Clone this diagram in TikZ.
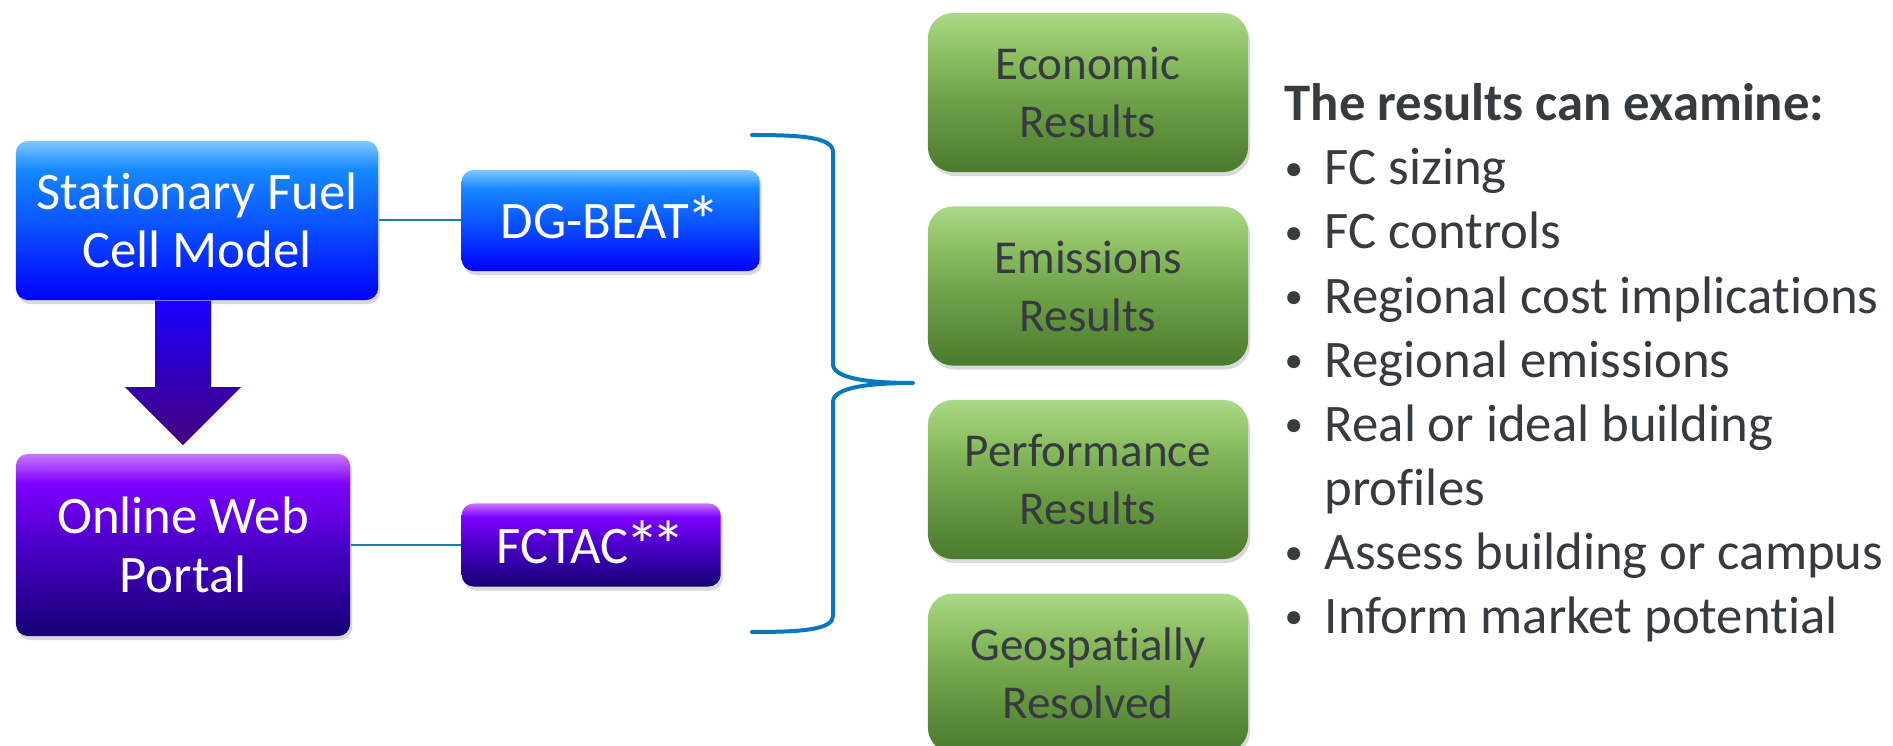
\documentclass[tikz,border=0pt]{standalone}
\usepackage{fontspec}
\setmainfont{Carlito}[Ligatures={NoCommon,TeX}]
\usetikzlibrary{positioning,shadows,calc}

\definecolor{fcBlueL}{HTML}{80C8FF}
\definecolor{fcBlueM}{HTML}{1588FF}
\definecolor{fcBlueN}{HTML}{0A50FF}
\definecolor{fcBlueD}{HTML}{0000FF}
\definecolor{fcVioL}{HTML}{C878FF}
\definecolor{fcVioM}{HTML}{7F00FF}
\definecolor{fcVioN}{HTML}{4A00C8}
\definecolor{fcVioD}{HTML}{160074}
\definecolor{resGreenL}{HTML}{ABD98A}
\definecolor{resGreenM}{HTML}{9ACB70}
\definecolor{resGreenN}{HTML}{73A54C}
\definecolor{resGreenD}{HTML}{4A7A2C}
\definecolor{arrowTop}{HTML}{1A00FF}
\definecolor{arrowBot}{HTML}{46007C}
\definecolor{braceBlue}{HTML}{0A78BE}
\definecolor{linkTeal}{HTML}{1F7FA0}
\definecolor{inkGray}{HTML}{363B40}

\pgfdeclareverticalshading{modelshade}{100bp}{color(0bp)=(fcBlueD); color(25bp)=(fcBlueD); color(48bp)=(fcBlueN); color(66bp)=(fcBlueM); color(75bp)=(fcBlueL); color(100bp)=(fcBlueL)}
\pgfdeclareverticalshading{portalshade}{100bp}{color(0bp)=(fcVioD); color(25bp)=(fcVioD); color(50bp)=(fcVioN); color(67bp)=(fcVioM); color(75bp)=(fcVioL); color(100bp)=(fcVioL)}
\pgfdeclareverticalshading{resultshade}{100bp}{color(0bp)=(resGreenD); color(25bp)=(resGreenD); color(50bp)=(resGreenN); color(68bp)=(resGreenM); color(75bp)=(resGreenL); color(100bp)=(resGreenL)}

\newcommand{\bigstar}{\raisebox{-0.12em}{\scalebox{1.3}{*}}}
\newcommand{\listdot}{\makebox[0.40cm][l]{\raisebox{1.4pt}{\fontsize{10.5}{10}\selectfont\textbullet}}}

\begin{document}
\begin{tikzpicture}[x=0.01cm,y=-0.01cm,
    toolbox/.style={rounded corners=0.12cm,inner sep=0pt,align=center,text=white,
      font=\fontsize{15}{16.6}\selectfont,
      drop shadow={opacity=0.3,shadow xshift=0.02cm,shadow yshift=-0.04cm}},
    modelbox/.style={toolbox,shade,shading=modelshade},
    portalbox/.style={toolbox,shade,shading=portalshade},
    resultbox/.style={shade,shading=resultshade,rounded corners=0.25cm,inner sep=0pt,
      align=center,text=inkGray,minimum width=3.2cm,minimum height=1.59cm,
      font=\fontsize{13.4}{16.5}\selectfont,
      drop shadow={opacity=0.3,shadow xshift=0.02cm,shadow yshift=-0.04cm}},
    flowarrow/.style={top color=arrowTop,bottom color=arrowBot},
    link/.style={draw=linkTeal,line width=0.02cm},
    bracket/.style={draw=braceBlue,line width=0.04cm,line join=round,line cap=round},
    node distance=0.33cm]
  \useasboundingbox (0,0) rectangle (1893,746);

  % tools on the left
  \node[modelbox,minimum width=3.62cm,minimum height=1.59cm] (sfcm) at (197,220.5) {Stationary Fuel\\Cell Model};
  \node[modelbox,minimum width=2.98cm,minimum height=1.01cm,right=0.82cm of sfcm] (dgbeat) {DG-BEAT\kern-0.05em\bigstar};
  \node[portalbox,minimum width=3.34cm,minimum height=1.82cm] (owp) at (183,545) {Online Web\\Portal};
  \node[portalbox,minimum width=2.59cm,minimum height=0.83cm,right=1.10cm of owp] (fctac) {FCTAC\kern-0.05em\bigstar\kern-0.16em\bigstar};

  \draw[link] (sfcm.east) -- (dgbeat.west);
  \draw[link] (owp.east) -- (fctac.west);

  % big arrow
  \coordinate (aTop) at (owp.north |- sfcm.south);
  \coordinate (aTip) at ($(owp.north)+(0,-8)$);
  \shade[flowarrow] ($(aTop)+(-28,0)$) -- ($(aTop)+(28,0)$) -- ($(aTip)+(28,-58)$)
    -- ($(aTip)+(58,-58)$) -- (aTip) -- ($(aTip)+(-58,-58)$) -- ($(aTip)+(-28,-58)$) -- cycle;

  % brace
  \coordinate (brTop) at (752,135);
  \coordinate (brTip) at (913,383);
  \coordinate (brBot) at (752,632);
  \draw[bracket] (brTop) .. controls (800,135) and (833,137) .. (833,152) -- (833,364)
    .. controls (833,378) and (866,383) .. (brTip)
    .. controls (866,383) and (833,388) .. (833,402) -- (833,616)
    .. controls (833,630) and (800,632) .. (brBot);

  % results
  \node[resultbox] (econ) at (1088,92.5) {Economic\\Results};
  \node[resultbox,below=of econ] (emis) {Emissions\\Results};
  \node[resultbox,below=of emis] (perf) {Performance\\Results};
  \node[resultbox,below=of perf] (geo) {Geospatially\\Resolved};

  % what the results can examine
  \node[anchor=base west,inner sep=0pt,text=inkGray] (exam) at (1284,121) {%
    \begin{minipage}[t]{6.08cm}\fontsize{15}{18.2}\selectfont\raggedright
      {\bfseries The results can examine:}\\
      \listdot FC sizing\\
      \listdot FC controls\\
      \listdot Regional cost implications\\
      \listdot Regional emissions\\
      \listdot Real or ideal building\\
      \hspace*{0.40cm}profiles\\
      \listdot Assess building or campus\\
      \listdot Inform market potential
    \end{minipage}};
\end{tikzpicture}
\end{document}
